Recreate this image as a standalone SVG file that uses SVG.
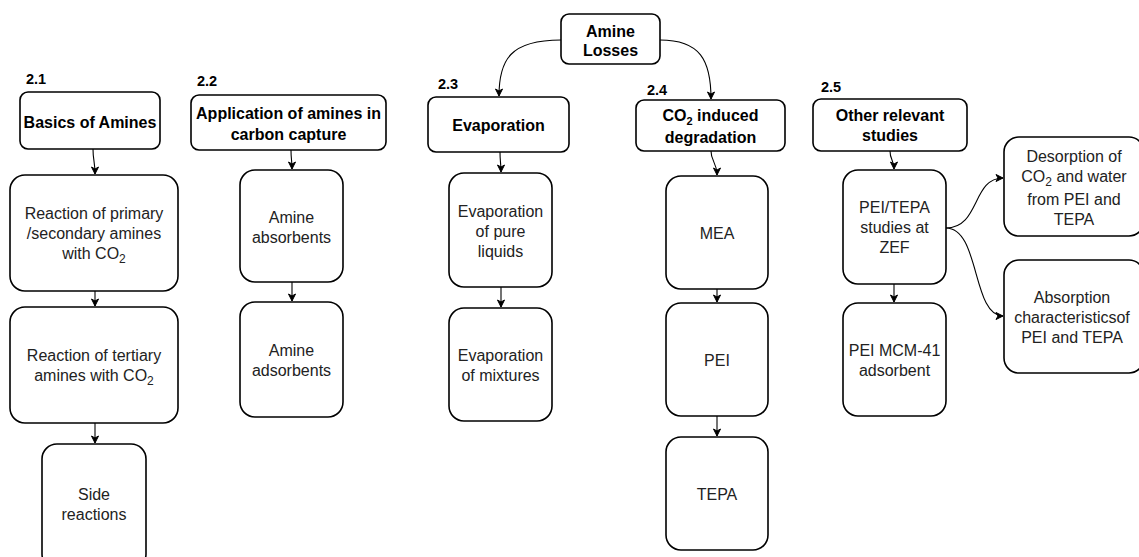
<svg xmlns="http://www.w3.org/2000/svg" width="1139" height="557" viewBox="0 0 1139 557">
<defs>
<marker id="ah" markerWidth="10" markerHeight="10" refX="8" refY="5" orient="auto" markerUnits="userSpaceOnUse">
<path d="M1,1.5 L8,5 L1,8.5 L3,5 Z" fill="#000" stroke="#000" stroke-width="1"/>
</marker>
</defs>
<style>
.b{fill:#fff;stroke:#000;stroke-width:1.6}
.t{font-family:"Liberation Sans",Arial,sans-serif;font-size:16px;fill:#222;text-anchor:middle}
.h{font-family:"Liberation Sans",Arial,sans-serif;font-size:16px;font-weight:bold;fill:#000;text-anchor:middle}
.n{font-family:"Liberation Sans",Arial,sans-serif;font-size:14.5px;font-weight:bold;fill:#000}
.c{fill:none;stroke:#000;stroke-width:1.1;marker-end:url(#ah)}
</style>
<rect width="1139" height="557" fill="#fff"/>
<g id="connectors">
<path class="c" d="M561,40 C510,40 499,60 499,96"/>
<path class="c" d="M660,40 C700,40 711,60 711,99"/>
<path class="c" d="M93,149 C93,160 95,162 95,174"/>
<path class="c" d="M95,291 L95,306"/>
<path class="c" d="M95,423 L95,443"/>
<path class="c" d="M291,150 C291,160 292,160 292,169"/>
<path class="c" d="M292,282 L292,301"/>
<path class="c" d="M500,152 C500,162 501,163 501,172"/>
<path class="c" d="M501,287 L501,307"/>
<path class="c" d="M711,151 C711,162 717,162 717,175"/>
<path class="c" d="M717,289 L717,302"/>
<path class="c" d="M717,416 L717,436"/>
<path class="c" d="M890,151 C890,160 894,160 894,169"/>
<path class="c" d="M894,284 L894,302"/>
<path class="c" d="M946,228 C980,228 972,178 1003,178"/>
<path class="c" d="M946,228 C980,228 972,316 1003,316"/>
</g>
<g id="lbl21"><text class="n" x="26" y="84">2.1</text></g>
<g id="lbl22"><text class="n" x="197" y="86">2.2</text></g>
<g id="lbl23"><text class="n" x="438" y="89">2.3</text></g>
<g id="lbl24"><text class="n" x="647" y="95">2.4</text></g>
<g id="lbl25"><text class="n" x="821" y="92">2.5</text></g>
<g id="amine-losses">
<rect class="b" x="561" y="14" width="99" height="50" rx="8"/>
<text class="h" x="610.5" y="37">Amine</text>
<text class="h" x="610.5" y="56">Losses</text>
</g>
<g id="basics">
<rect class="b" x="20" y="92" width="140" height="57" rx="8"/>
<text class="h" x="90" y="128">Basics of Amines</text>
</g>
<g id="primary">
<rect class="b" x="10" y="175" width="168" height="116" rx="15"/>
<text class="t" x="94" y="219">Reaction of primary</text>
<text class="t" x="94" y="239">/secondary amines</text>
<text class="t" x="94" y="259">with CO<tspan font-size="12" dy="4">2</tspan></text>
</g>
<g id="tertiary">
<rect class="b" x="10" y="307" width="168" height="116" rx="15"/>
<text class="t" x="94" y="361">Reaction of tertiary</text>
<text class="t" x="94" y="381">amines with CO<tspan font-size="12" dy="4">2</tspan></text>
</g>
<g id="side">
<rect class="b" x="42" y="444" width="104" height="125" rx="15"/>
<text class="t" x="94" y="500">Side</text>
<text class="t" x="94" y="520">reactions</text>
</g>
<g id="application">
<rect class="b" x="191" y="95" width="195" height="55" rx="8"/>
<text class="h" x="288.5" y="119">Application of amines in</text>
<text class="h" x="288.5" y="140">carbon capture</text>
</g>
<g id="absorbents">
<rect class="b" x="240" y="170" width="103" height="112" rx="15"/>
<text class="t" x="291.5" y="223">Amine</text>
<text class="t" x="291.5" y="243">absorbents</text>
</g>
<g id="adsorbents">
<rect class="b" x="240" y="302" width="103" height="115" rx="15"/>
<text class="t" x="291.5" y="356">Amine</text>
<text class="t" x="291.5" y="376">adsorbents</text>
</g>
<g id="evaporation">
<rect class="b" x="428" y="97" width="141" height="55" rx="8"/>
<text class="h" x="498.5" y="131">Evaporation</text>
</g>
<g id="evap-pure">
<rect class="b" x="449" y="173" width="103" height="114" rx="15"/>
<text class="t" x="500.5" y="217">Evaporation</text>
<text class="t" x="500.5" y="237">of pure</text>
<text class="t" x="500.5" y="257">liquids</text>
</g>
<g id="evap-mix">
<rect class="b" x="449" y="308" width="103" height="113" rx="15"/>
<text class="t" x="500.5" y="361">Evaporation</text>
<text class="t" x="500.5" y="381">of mixtures</text>
</g>
<g id="co2-degradation">
<rect class="b" x="636" y="100" width="149" height="51" rx="8"/>
<text class="h" x="710.5" y="121">CO<tspan font-size="11" dy="4">2</tspan><tspan dy="-4"> induced</tspan></text>
<text class="h" x="710.5" y="143">degradation</text>
</g>
<g id="mea">
<rect class="b" x="666" y="176" width="102" height="113" rx="15"/>
<text class="t" x="717" y="239">MEA</text>
</g>
<g id="pei">
<rect class="b" x="666" y="303" width="102" height="113" rx="15"/>
<text class="t" x="717" y="366">PEI</text>
</g>
<g id="tepa">
<rect class="b" x="666" y="437" width="102" height="113" rx="15"/>
<text class="t" x="717" y="500">TEPA</text>
</g>
<g id="other">
<rect class="b" x="813" y="99" width="154" height="52" rx="8"/>
<text class="h" x="890" y="121">Other relevant</text>
<text class="h" x="890" y="141">studies</text>
</g>
<g id="zef">
<rect class="b" x="843" y="170" width="103" height="114" rx="15"/>
<text class="t" x="894.5" y="213">PEI/TEPA</text>
<text class="t" x="894.5" y="233">studies at</text>
<text class="t" x="894.5" y="253">ZEF</text>
</g>
<g id="mcm41">
<rect class="b" x="843" y="303" width="103" height="113" rx="15"/>
<text class="t" x="894.5" y="356">PEI MCM-41</text>
<text class="t" x="894.5" y="376">adsorbent</text>
</g>
<g id="desorption">
<rect class="b" x="1004" y="137" width="140" height="99" rx="15"/>
<text class="t" x="1074" y="162">Desorption of</text>
<text class="t" x="1074" y="182">CO<tspan font-size="12" dy="4">2</tspan><tspan dy="-4"> and water</tspan></text>
<text class="t" x="1074" y="205">from PEI and</text>
<text class="t" x="1074" y="225">TEPA</text>
</g>
<g id="absorption">
<rect class="b" x="1004" y="260" width="140" height="113" rx="15"/>
<text class="t" x="1072" y="303">Absorption</text>
<text class="t" x="1072" y="323">characteristicsof</text>
<text class="t" x="1072" y="343">PEI and TEPA</text>
</g>
</svg>
